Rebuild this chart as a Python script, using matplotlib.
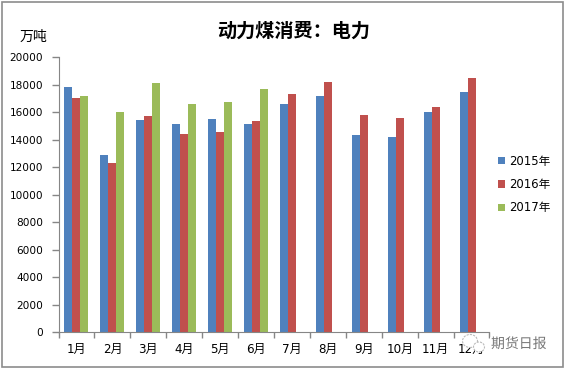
import matplotlib
matplotlib.use('Agg')
import matplotlib.pyplot as plt
import matplotlib.patheffects as pe
from matplotlib.patches import Rectangle, Ellipse
import numpy as np

months = ['1月', '2月', '3月', '4月', '5月', '6月', '7月', '8月', '9月', '10月', '11月', '12月']
y2015 = [17840, 12900, 15440, 15150, 15510, 15150, 16600, 17190, 14350, 14200, 16020, 17480]
y2016 = [17040, 12310, 15730, 14420, 14570, 15370, 17330, 18200, 15800, 15590, 16390, 18500]
y2017 = [17190, 16020, 18130, 16600, 16750, 17690]
yticks = list(range(0, 20001, 2000))

W, H = 564, 369
fonts = ['DejaVu Sans', 'Noto Sans CJK SC']
cjk_first = ['Noto Sans CJK SC', 'DejaVu Sans']
plt.rcParams['font.family'] = fonts

fig = plt.figure(figsize=(W / 100, H / 100), dpi=100)
# chart border
fig.add_artist(Rectangle((1.5 / W, 1 - 367 / H), 561 / W, 365.5 / H, transform=fig.transFigure,
                         fill=False, edgecolor='#8c8c8c', linewidth=1.2))

ax = fig.add_axes([58.5 / W, 1 - 332.3 / H, 431 / W, 275 / H])
x = np.arange(12)
bw = 8 / (431 / 12)
ax.bar(x - bw, y2015, bw, color='#4f81bd', label='2015年')
ax.bar(x, y2016, bw, color='#c0504d', label='2016年')
ax.bar(x[:len(y2017)] + bw, y2017, bw, color='#9bbb59', label='2017年')

ax.set_xlim(-0.5, 11.5)
ax.set_ylim(0, 20000)
ax.set_yticks(yticks)
ax.set_xticks(np.arange(-0.5, 12, 1))
ax.set_xticklabels([])
ax.set_xticks(x, months, minor=True)
ax.tick_params(axis='x', which='major', length=4, width=1, color='#868686')
ax.tick_params(axis='x', which='minor', length=0, pad=8, labelsize=8.6, labelcolor='black')
ax.tick_params(axis='y', length=5, width=1, color='#868686', labelsize=7.6, pad=6, labelcolor='black')
ax.spines['top'].set_visible(False)
ax.spines['right'].set_visible(False)
ax.spines['left'].set_color('#868686')
ax.spines['bottom'].set_color('#868686')

fig.text(294 / W, 1 - 31 / H, '动力煤消费：电力', ha='center', va='center', fontsize=13.8,
         fontweight='bold', family=cjk_first)
fig.text(33.5 / W, 1 - 37 / H, '万吨', ha='center', va='center', fontsize=10, family=cjk_first)

ax.legend(loc='center left', bbox_to_anchor=(497 / W, 1 - 184.5 / H), bbox_transform=fig.transFigure,
          frameon=False, fontsize=8.4, handlelength=0.6, handleheight=0.6, handletextpad=0.35,
          labelspacing=0.9, borderaxespad=0, borderpad=0.1)

# watermark
fig.text(491 / W, 1 - 344 / H, '期货日报', ha='left', va='center', fontsize=10, color='#777777',
         family=cjk_first, path_effects=[pe.withStroke(linewidth=2.5, foreground='white')])
fig.add_artist(Ellipse((470 / W, 1 - 341 / H), 15 / W, 13 / H, transform=fig.transFigure,
                       facecolor='white', edgecolor='#bbbbbb', linewidth=0.8, linestyle=(0, (2, 1))))
fig.add_artist(Ellipse((479 / W, 1 - 347 / H), 11 / W, 10 / H, transform=fig.transFigure,
                       facecolor='white', edgecolor='#bbbbbb', linewidth=0.8, linestyle=(0, (2, 1))))

fig.savefig('out.png', dpi=100)
